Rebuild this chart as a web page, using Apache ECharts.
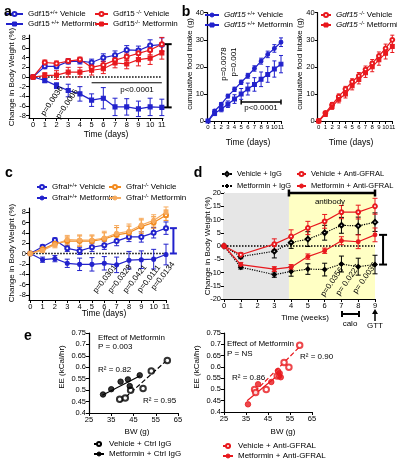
<!DOCTYPE html>
<html>
<head>
<meta charset="utf-8">
<script src="https://cdn.jsdelivr.net/npm/echarts@6/dist/echarts.min.js"></script>
<style>
html, body { margin: 0; padding: 0; background: #fff; }
#chart { width: 397px; height: 463px; }
</style>
</head>
<body>
<div id="chart"></div>
<script>
// ---------- data ----------
var days = [0, 1, 2, 3, 4, 5, 6, 7, 8, 9, 10, 11];
var weeks = [0, 1, 3, 4, 5, 6, 7, 8, 9];

// a: change in body weight (%), Gdf15
var aWtVeh = [0, 2.2, 2.2, 3.2, 3.3, 3.0, 4.0, 4.5, 5.6, 5.5, 6.5, 6.7];
var aWtVehErr = [0, 0.5, 0.5, 0.5, 0.6, 0.7, 0.8, 0.9, 0.9, 0.9, 1.2, 1.4];
var aWtMet = [0, -0.7, -1.8, -2.8, -3.5, -4.8, -4.4, -6.2, -6.2, -6.6, -6.2, -6.3];
var aWtMetErr = [0, 0.5, 0.6, 1.3, 1.5, 1.3, 2.2, 1.8, 1.7, 1.6, 1.8, 1.7];
var aKoVeh = [0, 3.0, 2.8, 3.3, 3.6, 2.0, 2.5, 3.5, 4.2, 4.9, 5.6, 6.8];
var aKoVehErr = [0, 0.5, 0.5, 0.5, 0.5, 0.7, 0.8, 0.8, 0.8, 0.9, 1.0, 1.4];
var aKoMet = [0, 0.3, 0.4, 1.0, 1.0, 1.4, 1.7, 2.9, 2.7, 3.6, 3.9, 5.0];
var aKoMetErr = [0, 0.6, 0.9, 1.0, 1.0, 1.0, 1.0, 1.0, 1.0, 1.3, 1.3, 1.3];

// b: cumulative food intake (g)
var bWtVeh = [0, 3.7, 6.2, 9.2, 11.7, 14.3, 16.7, 19.4, 22.1, 24.6, 26.8, 29.1];
var bWtVehErr = [0, 0.5, 0.6, 0.7, 0.8, 0.8, 0.9, 1.0, 1.1, 1.2, 1.4, 1.6];
var bWtMet = [0, 2.8, 4.4, 6.2, 8.1, 10.0, 11.8, 13.5, 15.4, 17.2, 19.2, 21.0];
var bWtMetErr = [0, 0.8, 1.0, 1.2, 1.6, 2.0, 2.2, 2.5, 2.7, 2.9, 3.0, 3.2];
var bKoVeh = [0, 3.0, 6.0, 9.0, 11.8, 14.5, 16.7, 19.0, 21.3, 24.0, 26.8, 30.0];
var bKoVehErr = [0, 0.5, 0.8, 1.0, 1.0, 1.1, 1.2, 1.3, 1.4, 1.5, 1.6, 1.7];
var bKoMet = [0, 2.5, 5.3, 8.0, 10.0, 13.0, 15.3, 17.8, 20.0, 22.6, 25.0, 27.5];
var bKoMetErr = [0, 0.8, 1.0, 1.3, 1.5, 1.5, 1.6, 1.7, 1.8, 2.0, 2.1, 2.2];

// c: change in body weight (%), Gfral
var cWtVeh = [0, 1.3, 2.6, 1.0, 0.5, 1.2, 1.6, 2.4, 3.2, 3.2, 4.0, 4.9];
var cWtVehErr = [0, 0.3, 0.4, 0.6, 0.7, 0.8, 0.8, 0.9, 0.9, 1.0, 1.0, 1.2];
var cWtMet = [0, -1.2, -1.0, -1.9, -2.1, -2.1, -1.9, -2.2, -1.3, -1.2, -1.1, -0.2];
var cWtMetErr = [0, 0.5, 0.6, 0.8, 1.2, 1.3, 1.3, 1.5, 1.7, 1.7, 1.9, 2.0];
var cKoVeh = [0, 0.8, 1.9, 2.4, 2.4, 2.4, 2.8, 3.6, 4.0, 5.2, 6.0, 7.4];
var cKoVehErr = [0, 0.4, 0.6, 0.8, 1.0, 1.0, 1.2, 1.4, 1.3, 1.3, 1.1, 1.0];
var cKoMet = [0, 0.6, 1.7, 2.7, 2.6, 2.6, 3.0, 3.9, 4.3, 5.5, 6.4, 8.0];
var cKoMetErr = [0, 0.4, 0.6, 0.8, 1.0, 1.0, 1.3, 1.5, 1.4, 1.3, 1.1, 1.0];

// d: change in body weight (%), antibody study
var dVehIgG = [0, -4.0, -2.0, 1.3, 2.6, 5.0, 7.8, 7.6, 9.0];
var dVehIgGErr = [0, 0.8, 2.5, 2.2, 2.8, 2.8, 3.0, 3.3, 3.5];
var dMetIgG = [0, -8.0, -10.8, -9.6, -8.7, -8.9, -6.8, -7.8, -7.0];
var dMetIgGErr = [0, 0.7, 1.0, 1.8, 2.0, 2.4, 3.0, 3.2, 3.5];
var dVehAb = [0, -3.3, 0.7, 3.6, 6.8, 9.3, 12.8, 12.8, 15.0];
var dVehAbErr = [0, 0.8, 2.0, 2.5, 2.5, 2.6, 2.5, 2.6, 3.0];
var dMetAb = [0, -7.0, -8.7, -8.0, -4.0, -1.8, 2.0, 1.6, 4.2];
var dMetAbErr = [0, 0.8, 0.9, 1.0, 1.0, 1.0, 1.5, 2.6, 2.6];

// e: energy expenditure vs body weight
var eIgGVehBW = [38.8, 41.3, 43.7, 49.3, 53.0, 60.2];
var eIgGVehEE = [0.460, 0.466, 0.500, 0.507, 0.584, 0.630];
var eIgGMetBW = [31.3, 35.0, 39.2, 42.5, 43.3, 47.8];
var eIgGMetEE = [0.481, 0.504, 0.537, 0.547, 0.518, 0.565];
var eIgGVehFitBW = [39.0, 60.5], eIgGVehFitEE = [0.448, 0.635];
var eIgGMetFitBW = [31.0, 48.0], eIgGMetFitEE = [0.478, 0.563];
var eAbVehBW = [38.9, 39.4, 44.2, 49.2, 52.3, 54.5, 59.4];
var eAbVehEE = [0.500, 0.486, 0.500, 0.560, 0.619, 0.598, 0.696];
var eAbMetBW = [35.9, 40.5, 46.5, 49.5, 50.3, 50.8, 50.0];
var eAbMetEE = [0.434, 0.523, 0.533, 0.582, 0.572, 0.554, 0.560];
var eAbVehFitBW = [39.0, 59.5], eAbVehFitEE = [0.490, 0.690];
var eAbMetFitBW = [35.5, 51.0], eAbMetFitEE = [0.450, 0.575];

// tick labels
var dayTicks = days;
var weekTicks = [0, 1, 2, 3, 4, 5, 6, 7, 8, 9];
var pctTicks = [-8, -6, -4, -2, 0, 2, 4, 6, 8];
var foodTicks = [0, 10, 20, 30, 40];
var dTicks = [-20, -15, -10, -5, 0, 5, 10, 15, 20];
var bwTicks = [25, 35, 45, 55, 65];
var eeTicks = [0.4, 0.45, 0.5, 0.55, 0.6, 0.65, 0.7, 0.75];

// ---------- colours / helpers ----------
var BLUE = '#2222cc', RED = '#e8191e', ORANGE = '#f28a1e', LORANGE = '#f7ab5e', BLACK = '#000';
var FONT = 'Liberation Sans';

function fmt(v) { return String(Math.round(v * 100) / 100); }

function axis(gi, min, max, ticks, fs) {
	return {
		type: 'value', gridIndex: gi, min: min, max: max,
		axisLine: { show: true, onZero: false, lineStyle: { color: '#000', width: 1.2 } },
		axisTick: { show: true, length: 3, customValues: ticks, lineStyle: { color: '#000', width: 1 } },
		axisLabel: {
			customValues: ticks, fontSize: fs || 7.5, color: '#000', margin: 3, fontFamily: FONT,
			formatter: fmt, showMinLabel: true, showMaxLabel: true, hideOverlap: false
		},
		splitLine: { show: false }
	};
}

function lineS(name, gi, xs, ys, color, symbol, dash, size) {
	return {
		type: 'line', name: name, xAxisIndex: gi, yAxisIndex: gi,
		data: xs.map(function (x, i) { return [x, ys[i]]; }),
		symbol: symbol, symbolSize: size || 4, showSymbol: true,
		itemStyle: { color: color, borderColor: color, borderWidth: 1.1 },
		lineStyle: { color: color, width: 1.2, type: dash || 'solid' },
		z: 4, animation: false
	};
}

function errS(gi, xs, ys, es, color, cap, lw) {
	return {
		type: 'custom', xAxisIndex: gi, yAxisIndex: gi, silent: true, animation: false, z: 3,
		data: xs.map(function (x, i) { return [x, ys[i] - es[i], ys[i] + es[i]]; }),
		renderItem: function (p, api) {
			var lo = api.coord([api.value(0), api.value(1)]);
			var hi = api.coord([api.value(0), api.value(2)]);
			var w = cap || 2.5;
			var st = { stroke: color, lineWidth: lw || 1 };
			return { type: 'group', children: [
				{ type: 'line', shape: { x1: lo[0], y1: lo[1], x2: hi[0], y2: hi[1] }, style: st },
				{ type: 'line', shape: { x1: lo[0] - w, y1: lo[1], x2: lo[0] + w, y2: lo[1] }, style: st },
				{ type: 'line', shape: { x1: hi[0] - w, y1: hi[1], x2: hi[0] + w, y2: hi[1] }, style: st }
			] };
		}
	};
}

// horizontal bar with end caps, in data coordinates
function hbarS(gi, x1, x2, y, color, lw, cap) {
	return {
		type: 'custom', xAxisIndex: gi, yAxisIndex: gi, silent: true, animation: false, z: 3,
		data: [[x1, x2, y]],
		renderItem: function (p, api) {
			var a = api.coord([api.value(0), api.value(2)]);
			var b = api.coord([api.value(1), api.value(2)]);
			var st = { stroke: color, lineWidth: lw };
			var kids = [{ type: 'line', shape: { x1: a[0], y1: a[1], x2: b[0], y2: b[1] }, style: st }];
			if (cap) {
				kids.push({ type: 'line', shape: { x1: a[0], y1: a[1] - cap, x2: a[0], y2: a[1] + cap }, style: st });
				kids.push({ type: 'line', shape: { x1: b[0], y1: b[1] - cap, x2: b[0], y2: b[1] + cap }, style: st });
			}
			return { type: 'group', children: kids };
		}
	};
}

function zeroS(gi, x2) {
	return {
		type: 'line', xAxisIndex: gi, yAxisIndex: gi, data: [[0, 0], [x2, 0]], symbol: 'none', silent: true,
		lineStyle: { color: '#000', width: 1.5, type: 'dotted' }, z: 2, animation: false
	};
}

function scatS(gi, xs, ys, color, symbol) {
	return {
		type: 'scatter', xAxisIndex: gi, yAxisIndex: gi, symbol: symbol, symbolSize: 5.5,
		data: xs.map(function (x, i) { return [x, ys[i]]; }),
		itemStyle: { color: color, borderColor: color, borderWidth: 1 }, z: 4, animation: false
	};
}

var LBL = {
	aWV: '{t|Gdf15}{s|+/+} Vehicle', aWM: '{t|Gdf15}{s| +/+} Metformin',
	aKV: '{t|Gdf15}{s| -/-} Vehicle', aKM: '{t|Gdf15}{s|-/-} Metformin',
	bWV: '{i|Gdf15}{s| +/+} Vehicle', bWM: '{i|Gdf15}{s| +/+} Metformin',
	bKV: '{i|Gdf15}{s| -/-} Vehicle', bKM: '{i|Gdf15}{s| -/-} Metformin',
	cWV: '{t|Gfral}{s|+/+} Vehicle', cWM: '{t|Gfral}{s|+/+} Metformin',
	cKV: '{t|Gfral}{s|-/-} Vehicle', cKM: '{t|Gfral}{s|-/-} Metformin',
	dVI: 'Vehicle + IgG', dMI: 'Metformin + IgG',
	dVA: 'Vehicle + Anti-GFRAL', dMA: 'Metformin + Anti-GFRAL',
	eVI: 'Vehicle + Ctrl IgG', eMI: 'Metformin + Ctrl IgG',
	eVA: 'Vehicle + Anti-GFRAL', eMA: 'Metformin + Anti-GFRAL'
};
var RICH = {
	t: { fontSize: 8, fontFamily: FONT, lineHeight: 10 },
	i: { fontSize: 8, fontFamily: FONT, fontStyle: 'italic', lineHeight: 10 },
	s: { fontSize: 5.5, fontFamily: FONT, lineHeight: 10, verticalAlign: 'top', padding: [0, 0, 4, 0] }
};

function leg(names, left, top, iw, spacing, fs) {
	return {
		orient: 'vertical', left: left, top: top, data: names, padding: 0,
		itemWidth: iw, itemHeight: 5, itemGap: spacing - 10, selectedMode: false,
		itemStyle: { borderWidth: 1 },
		textStyle: { fontSize: fs || 8, fontFamily: FONT, color: '#000', lineHeight: 10, rich: RICH },
		formatter: function (n) { return LBL[n]; }
	};
}

function txt(x, y, s, o) {
	o = o || {};
	return {
		type: 'text', x: x, y: y, rotation: o.rot || 0, silent: true, z: 10,
		style: {
			text: s, fontSize: o.fs || 8, fontFamily: FONT, fill: o.color || '#000',
			fontWeight: o.bold ? 'bold' : 'normal', align: o.align || 'center', verticalAlign: 'middle'
		}
	};
}

function grid(l, t, w, h) {
	return { left: l, top: t, width: w, height: h, containLabel: false, outerBoundsMode: 'none' };
}

// ---------- option ----------
var grids = [
	grid(29, 35, 134, 83),      // 0 a
	grid(207, 12.7, 74, 108.3), // 1 b left
	grid(317.7, 12.7, 74.6, 108.3), // 2 b right
	grid(29, 208, 137, 92),     // 3 c
	grid(224, 193, 151, 106),   // 4 d
	grid(89, 333, 89, 80),      // 5 e left
	grid(224, 333, 88, 79)      // 6 e right
];

var xAxes = [
	axis(0, -0.35, 11.1, dayTicks),
	axis(1, -0.15, 11, dayTicks, 6),
	axis(2, -0.15, 11, dayTicks, 6),
	axis(3, -0.1, 11, dayTicks),
	axis(4, 0, 9, weekTicks),
	axis(5, 25, 65, bwTicks),
	axis(6, 25, 65, bwTicks)
];
var yAxes = [
	axis(0, -8.5, 8.7, pctTicks),
	axis(1, 0, 40, foodTicks),
	axis(2, 0, 40, foodTicks),
	axis(3, -9, 8.8, pctTicks),
	axis(4, -20, 20, dTicks),
	axis(5, 0.4, 0.75, eeTicks),
	axis(6, 0.4, 0.75, eeTicks)
];

var series = [
	// a
	zeroS(0, 11),
	hbarS(0, 5, 11, -1.2, BLACK, 1, 0),
	errS(0, [11.5], [0.25], [6.55], BLACK, 4, 2),
	errS(0, days, aWtVeh, aWtVehErr, BLUE),
	errS(0, days, aWtMet, aWtMetErr, BLUE),
	errS(0, days, aKoVeh, aKoVehErr, RED),
	errS(0, days, aKoMet, aKoMetErr, RED),
	lineS('aWV', 0, days, aWtVeh, BLUE, 'emptyCircle'),
	lineS('aWM', 0, days, aWtMet, BLUE, 'rect'),
	lineS('aKV', 0, days, aKoVeh, RED, 'emptyCircle'),
	lineS('aKM', 0, days, aKoMet, RED, 'rect'),
	// b
	hbarS(1, 5, 11, 7, BLACK, 1.5, 2.5),
	errS(1, days, bWtVeh, bWtVehErr, BLUE, 2),
	errS(1, days, bWtMet, bWtMetErr, BLUE, 2),
	lineS('bWV', 1, days, bWtVeh, BLUE, 'circle', 'solid', 3.8),
	lineS('bWM', 1, days, bWtMet, BLUE, 'rect', 'solid', 3.8),
	errS(2, days, bKoVeh, bKoVehErr, RED, 2),
	errS(2, days, bKoMet, bKoMetErr, RED, 2),
	lineS('bKV', 2, days, bKoVeh, RED, 'emptyCircle', 'solid', 3.8),
	lineS('bKM', 2, days, bKoMet, RED, 'rect', 'solid', 3.8),
	// c
	zeroS(3, 11),
	errS(3, [11.6], [2.45], [2.45], BLUE, 3.5, 2),
	errS(3, days, cWtVeh, cWtVehErr, BLUE),
	errS(3, days, cWtMet, cWtMetErr, BLUE),
	errS(3, days, cKoVeh, cKoVehErr, ORANGE),
	errS(3, days, cKoMet, cKoMetErr, LORANGE),
	lineS('cWV', 3, days, cWtVeh, BLUE, 'emptyCircle'),
	lineS('cWM', 3, days, cWtMet, BLUE, 'circle'),
	lineS('cKV', 3, days, cKoVeh, ORANGE, 'emptyCircle'),
	lineS('cKM', 3, days, cKoMet, LORANGE, 'circle'),
	// d
	{
		type: 'line', xAxisIndex: 4, yAxisIndex: 4, data: [], silent: true, z: 0, animation: false,
		markArea: { silent: true, data: [
			[{ xAxis: 0, itemStyle: { color: '#e6e6e6' } }, { xAxis: 3.87 }],
			[{ xAxis: 3.87, itemStyle: { color: '#ffffc4' } }, { xAxis: 9 }]
		] }
	},
	zeroS(4, 9),
	hbarS(4, 3.87, 9, 20, BLACK, 2.5, 3.5),
	errS(4, [9.48], [-1.4], [5.6], BLACK, 4, 2),
	errS(4, weeks, dVehIgG, dVehIgGErr, BLACK),
	errS(4, weeks, dMetIgG, dMetIgGErr, BLACK),
	errS(4, weeks, dVehAb, dVehAbErr, RED),
	errS(4, weeks, dMetAb, dMetAbErr, RED),
	lineS('dVI', 4, weeks, dVehIgG, BLACK, 'emptyDiamond', 'dotted', 4.5),
	lineS('dMI', 4, weeks, dMetIgG, BLACK, 'diamond', 'dotted', 4.5),
	lineS('dVA', 4, weeks, dVehAb, RED, 'emptyCircle', 'solid', 3.8),
	lineS('dMA', 4, weeks, dMetAb, RED, 'circle', 'solid', 3.8),
	// e left
	lineS('eVI', 5, eIgGVehFitBW, eIgGVehFitEE, BLACK, 'emptyCircle', 'dashed', 5),
	lineS('eMI', 5, eIgGMetFitBW, eIgGMetFitEE, BLACK, 'circle', 'solid', 5),
	scatS(5, eIgGVehBW, eIgGVehEE, BLACK, 'emptyCircle'),
	scatS(5, eIgGMetBW, eIgGMetEE, BLACK, 'circle'),
	// e right
	lineS('eVA', 6, eAbVehFitBW, eAbVehFitEE, RED, 'emptyCircle', 'dashed', 5),
	lineS('eMA', 6, eAbMetFitBW, eAbMetFitEE, RED, 'circle', 'solid', 5),
	scatS(6, eAbVehBW, eAbVehEE, RED, 'emptyCircle'),
	scatS(6, eAbMetBW, eAbMetEE, RED, 'circle')
];
// fit lines: hide point symbols on the plot, keep them in the legend
series.forEach(function (s) {
	if (s.name && s.name.charAt(0) === 'e') s.showSymbol = false;
});

var R = Math.PI / 180;
var graphics = [
	// panel letters
	txt(8, 12, 'a', { fs: 14, bold: true }),
	txt(186, 12, 'b', { fs: 14, bold: true }),
	txt(9, 173, 'c', { fs: 14, bold: true }),
	txt(198, 173, 'd', { fs: 14, bold: true }),
	txt(28, 336, 'e', { fs: 14, bold: true }),
	// a
	txt(12, 77, 'Change in Body Weight (%)', { rot: 90 * R }),
	txt(106, 135, 'Time (days)', { fs: 8.5 }),
	txt(137, 90, 'p<0.0001'),
	txt(52, 101, 'p=0.0036', { rot: 56 * R }),
	txt(67, 104, 'p=0.0006', { rot: 56 * R }),
	// b
	txt(190, 64, 'cumulative food intake (g)', { rot: 90 * R }),
	txt(300, 64, 'cumulative food intake (g)', { rot: 90 * R }),
	txt(248, 143, 'Time (days)', { fs: 8.5 }),
	txt(351, 143, 'Time (days)', { fs: 8.5 }),
	txt(261, 108, 'p<0.0001'),
	txt(224, 64, 'p=0.0078', { rot: 90 * R }),
	txt(234, 62, 'p=0.001', { rot: 90 * R }),
	// c
	txt(12, 253, 'Change in Body Weight (%)', { rot: 90 * R }),
	txt(104, 314, 'Time (days)', { fs: 8.5 }),
	txt(105, 279, 'p=0.0301', { rot: 52 * R }),
	txt(120, 279, 'p=0.0328', { rot: 52 * R }),
	txt(135, 279, 'p=0.0421', { rot: 52 * R }),
	txt(149, 279, 'p=0.0111', { rot: 52 * R }),
	txt(163, 276, 'p=0.0134', { rot: 52 * R }),
	// d
	txt(208, 246, 'Change in Body Weight (%)', { rot: 90 * R }),
	txt(305, 318, 'Time (weeks)'),
	txt(330, 202, 'antibody'),
	txt(332, 282, 'p=0.0356', { rot: 55 * R }),
	txt(348, 280, 'p= 0.0227', { rot: 55 * R }),
	txt(365, 278, 'p= 0.0036', { rot: 55 * R }),
	{ type: 'polyline', silent: true, shape: { points: [[342, 311], [342, 317], [342, 314], [359, 314], [359, 311], [359, 317]] }, style: { stroke: '#000', lineWidth: 2, fill: null } },
	txt(350, 324, 'calo'),
	{ type: 'line', silent: true, shape: { x1: 375, y1: 321, x2: 375, y2: 313 }, style: { stroke: '#000', lineWidth: 1.5 } },
	{ type: 'polygon', silent: true, shape: { points: [[372, 314], [378, 314], [375, 309]] }, style: { fill: '#000' } },
	txt(375, 326, 'GTT'),
	// e
	txt(62, 367, 'EE (kCal/hr)', { rot: 90 * R }),
	txt(197, 367, 'EE (kCal/hr)', { rot: 90 * R }),
	txt(137, 432, 'BW (g)'),
	txt(283, 432, 'BW (g)'),
	txt(98, 338, 'Effect of Metformin', { align: 'left' }),
	txt(98, 347, 'P = 0.003', { align: 'left' }),
	txt(98, 370, 'R² = 0.82', { align: 'left' }),
	txt(143, 401, 'R² = 0.95', { align: 'left' }),
	txt(227, 344, 'Effect of Metformin', { align: 'left' }),
	txt(227, 354, 'P = NS', { align: 'left' }),
	txt(300, 357, 'R² = 0.90', { align: 'left' }),
	txt(232, 378, 'R² = 0.86', { align: 'left' })
];

var option = {
	animation: false,
	backgroundColor: '#fff',
	grid: grids,
	xAxis: xAxes,
	yAxis: yAxes,
	legend: [
		leg(['aWV', 'aWM'], 5, 9, 17, 10),
		leg(['aKV', 'aKM'], 94, 9, 13, 10),
		leg(['bWV', 'bWM'], 204, 10, 14, 10),
		leg(['bKV', 'bKM'], 320, 10, 10, 10),
		leg(['cWV', 'cWM'], 36, 182, 10, 11),
		leg(['cKV', 'cKM'], 108, 182, 12, 11),
		leg(['dVI', 'dMI'], 221, 169, 10, 12, 7.5),
		leg(['dVA', 'dMA'], 296, 169, 9, 12, 7.5),
		leg(['eVI', 'eMI'], 93, 439, 10, 10),
		leg(['eVA', 'eMA'], 222, 441, 10, 10)
	],
	series: series,
	graphic: graphics
};

var myChart = echarts.init(document.getElementById('chart'));
myChart.setOption(option);
</script>
</body>
</html>
